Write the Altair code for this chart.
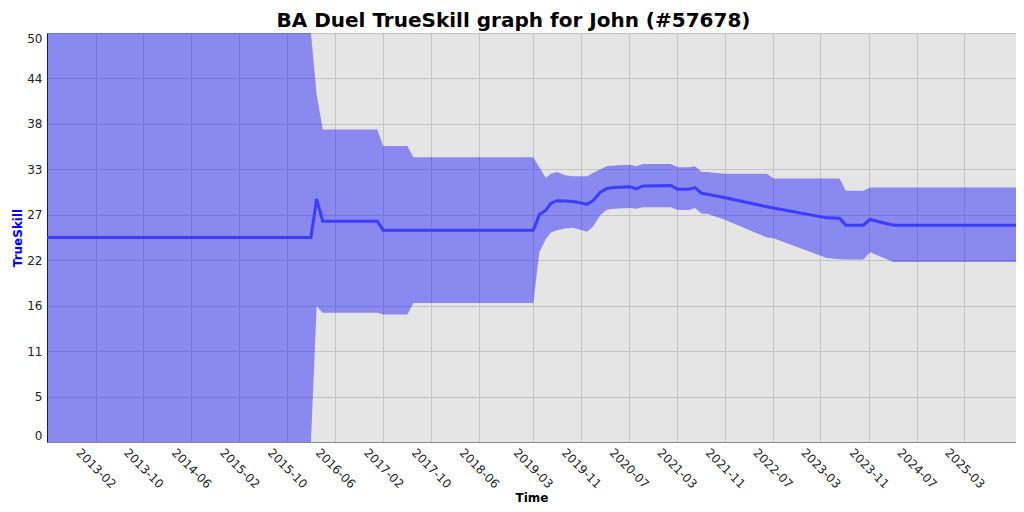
import altair as alt
import pandas as pd

# ---- data ----
dates = [
    "2012-05-30", "2016-01-30", "2016-02-28", "2016-03-30", "2017-01-01",
    "2017-01-31", "2017-06-03", "2017-07-03", "2019-03-04", "2019-04-04",
    "2019-05-06", "2019-06-02", "2019-07-02", "2019-08-12", "2019-09-21",
    "2019-11-06", "2019-12-02", "2020-01-01", "2020-02-06", "2020-03-11",
    "2020-04-17", "2020-07-07", "2020-08-07", "2020-09-11", "2021-01-31",
    "2021-03-06", "2021-05-03", "2021-06-02", "2021-07-06", "2021-08-02",
    "2021-10-28", "2022-06-03", "2022-07-05", "2023-04-02", "2023-06-06",
    "2023-07-08", "2023-10-05", "2023-11-08", "2024-03-05", "2025-11-18",
]
mean = [
    25.0, 25.0, 29.7, 27.0, 27.0,
    25.9, 25.9, 25.9, 25.9, 27.8,
    28.3, 29.2, 29.5, 29.45, 29.4,
    29.2, 29.05, 29.5, 30.5, 31.0,
    31.1, 31.2, 30.95, 31.3, 31.35,
    30.9, 30.9, 31.1, 30.4, 30.3,
    29.9, 28.75, 28.6, 27.4, 27.35,
    26.5, 26.5, 27.2, 26.5, 26.5,
]
upper = [
    50.0, 50.0, 42.5, 38.2, 38.2,
    36.2, 36.2, 34.8, 34.8, 33.6,
    32.3, 32.8, 33.0, 32.6, 32.5,
    32.5, 32.5, 32.9, 33.3, 33.7,
    33.8, 33.9, 33.7, 34.0, 34.0,
    33.6, 33.6, 33.7, 33.0, 33.0,
    32.8, 32.8, 32.2, 32.2, 32.2,
    30.7, 30.7, 31.1, 31.1, 31.1,
]
lower = [
    0.0, 0.0, 16.6, 15.8, 15.8,
    15.6, 15.6, 17.0, 17.0, 23.2,
    24.8, 25.6, 25.9, 26.1, 26.2,
    25.9, 25.7, 26.3, 27.7, 28.4,
    28.5, 28.6, 28.5, 28.7, 28.7,
    28.35, 28.35, 28.6, 27.9, 27.9,
    27.2, 25.0, 24.9, 22.5, 22.35,
    22.3, 22.3, 23.2, 22.0, 22.0,
]
x_ticks = [
    "2013-02", "2013-10", "2014-06", "2015-02", "2015-10", "2016-06",
    "2017-02", "2017-10", "2018-06", "2019-03", "2019-11", "2020-07",
    "2021-03", "2021-11", "2022-07", "2023-03", "2023-11", "2024-07", "2025-03",
]
y_ticks = [0, 50 / 9, 100 / 9, 150 / 9, 200 / 9, 250 / 9, 300 / 9, 350 / 9, 400 / 9, 50]
x_domain = ["2012-05-30", "2025-11-18"]

df = pd.DataFrame({"date": dates, "mean": mean, "upper": upper, "lower": lower})


def dt(s):
    parts = [int(p) for p in s.split("-")]
    return alt.DateTime(year=parts[0], month=parts[1], date=parts[2] if len(parts) > 2 else 1, utc=True)


FONT = "DejaVu Sans"
GRID = "#c4c4c4"

x_axis = alt.Axis(
    values=[dt(t) for t in x_ticks],
    labelExpr="utcFormat(datum.value, '%Y-%m')",
    labelAngle=45,
    labelAlign="center",
    labelBaseline="middle",
    labelPadding=26,
    labelFlush=False,
    labelOverlap=False,
    labelFontSize=12,
    labelColor="#222222",
    ticks=False,
    tickSize=0,
    grid=True,
    gridColor=GRID,
    domainColor="#888888",
    title="Time",
    titleFontSize=12,
    titleFontWeight="bold",
    titleColor="#000000",
    titleBaseline="alphabetic",
    titleY=59,
)
x_enc = alt.X(
    "date:T",
    scale=alt.Scale(type="utc", domain=[dt(d) for d in x_domain]),
    axis=x_axis,
)

y_axis = alt.Axis(
    values=y_ticks,
    labelExpr="floor(datum.value)",
    labelFlush=True,
    labelFontSize=12,
    labelColor="#222222",
    labelPadding=5,
    ticks=False,
    tickSize=0,
    grid=True,
    gridColor=GRID,
    domainColor="#222222",
    title="TrueSkill",
    titleColor="#0000ff",
    titleFontSize=12,
    titleFontWeight="bold",
    titleBaseline="alphabetic",
    titleX=-26,
)
y_scale = alt.Scale(domain=[0, 50], nice=False, zero=False)

band = alt.Chart(df).mark_area(color="#0000ff", opacity=0.4, clip=True).encode(
    x=x_enc,
    y=alt.Y("upper:Q", scale=y_scale, axis=y_axis, title="TrueSkill"),
    y2="lower:Q",
)
line = alt.Chart(df).mark_line(color="#3c3cff", strokeWidth=3, clip=True).encode(
    x=x_enc,
    y=alt.Y("mean:Q", scale=y_scale, axis=y_axis, title="TrueSkill"),
)

chart = (
    alt.layer(band, line)
    .properties(
        width=969,
        height=409,
        autosize=alt.AutoSizeParams(type="none"),
        padding={"left": 39, "top": 25, "right": 0, "bottom": 62},
        title=alt.TitleParams(
            text="BA Duel TrueSkill graph for John (#57678)",
            font=FONT,
            fontSize=20,
            fontWeight="bold",
            color="#000000",
            anchor="middle",
            baseline="alphabetic",
            offset=9,
            dx=-18,
            dy=24,
        ),
    )
    .configure(font=FONT, background="white")
    .configure_view(fill="#e5e5e5", stroke="transparent")
)

chart.save("out.html", embed_options={"renderer": "svg", "actions": False})
